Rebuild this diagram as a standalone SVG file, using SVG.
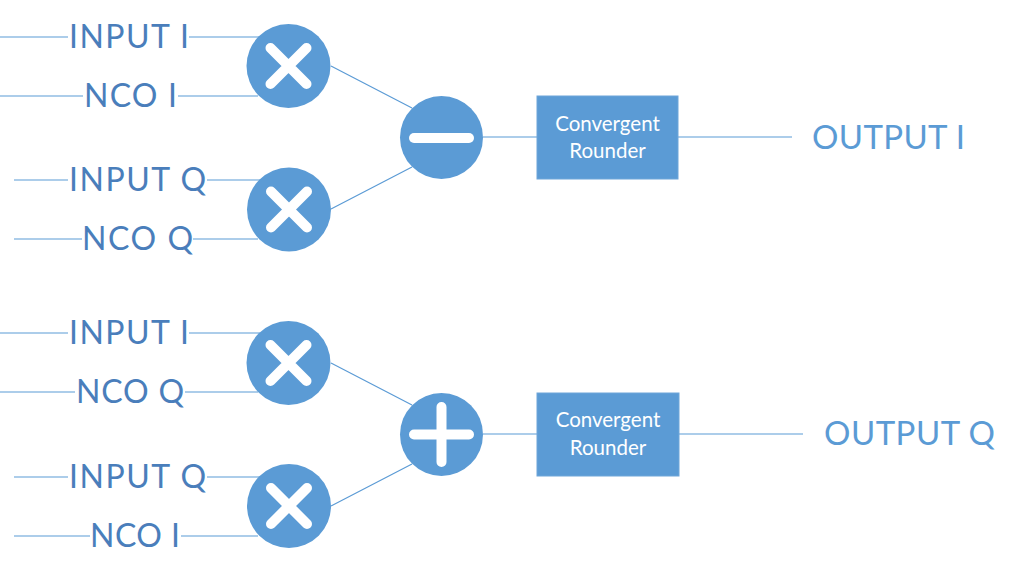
<svg xmlns="http://www.w3.org/2000/svg" width="1016" height="579" viewBox="0 0 1016 579">
<style>
.ln{stroke:#5b9bd5;stroke-width:1.2;fill:none}
.op{fill:#5b9bd5}
.sym{stroke:#fff;stroke-width:10;stroke-linecap:round;fill:none}
.lbl{font-family:Lato,"Liberation Sans",sans-serif;font-weight:400;font-size:32px;fill:#4a7ebb}
.out{font-family:Lato,"Liberation Sans",sans-serif;font-weight:400;font-size:33px;fill:#5b9bd5}
.box{fill:#5b9bd5;stroke:#6fa6d9;stroke-width:1}
.bt{font-family:Lato,"Liberation Sans",sans-serif;font-size:20.5px;fill:#fff;text-anchor:middle}
</style>
<rect width="1016" height="579" fill="#fff"/>
<g id="connectors">
<path class="ln" d="M0 37H68M189 37H260M0 96H83M178 96H258M14 180H68M207 180H260M14 239H82M193 239H258"/>
<path class="ln" d="M331 66L412 108M331 209L412 167M483 137H537M678 137H792"/>
<path class="ln" d="M0 333H68M189 333H260M0 392H75M185 392H258M14 477H68M207 477H260M14 536H90M181 536H258"/>
<path class="ln" d="M331 363L412 405M331 506L412 464M483 434H537M679 434H803"/>
</g>
<g id="labels">
<text class="lbl" x="69" y="48" textLength="120">INPUT I</text>
<text class="lbl" x="84" y="107" textLength="93">NCO I</text>
<text class="lbl" x="69" y="191" textLength="137">INPUT Q</text>
<text class="lbl" x="82" y="250" textLength="111">NCO Q</text>
<text class="lbl" x="69" y="344" textLength="120">INPUT I</text>
<text class="lbl" x="76" y="403" textLength="108">NCO Q</text>
<text class="lbl" x="69" y="488" textLength="137">INPUT Q</text>
<text class="lbl" x="90" y="547" textLength="90">NCO I</text>
</g>
<g id="mult1"><circle class="op" cx="288.5" cy="66" r="42"/><path class="sym" d="M270.5 48L306.5 84M306.5 48L270.5 84"/></g>
<g id="mult2"><circle class="op" cx="289" cy="209.5" r="42"/><path class="sym" d="M271 191.5L307 227.5M307 191.5L271 227.5"/></g>
<g id="sub"><circle class="op" cx="441.5" cy="137.5" r="41.5"/><path class="sym" d="M414 138H469"/></g>
<g id="rounder1"><rect class="box" x="537" y="96" width="141" height="83"/><text class="bt" x="607.5" y="131">Convergent</text><text class="bt" x="607.5" y="158">Rounder</text></g>
<g id="outI"><text class="out" x="812" y="149" textLength="153">OUTPUT I</text></g>
<g id="mult3"><circle class="op" cx="288.5" cy="363" r="42"/><path class="sym" d="M270.5 345L306.5 381M306.5 345L270.5 381"/></g>
<g id="mult4"><circle class="op" cx="289" cy="506" r="42"/><path class="sym" d="M271 488L307 524M307 488L271 524"/></g>
<g id="add"><circle class="op" cx="441.5" cy="434.5" r="41.5"/><path class="sym" d="M414 434.5H469M441.5 407V462"/></g>
<g id="rounder2"><rect class="box" x="537" y="393" width="142" height="83"/><text class="bt" x="608" y="427">Convergent</text><text class="bt" x="608" y="455">Rounder</text></g>
<g id="outQ"><text class="out" x="824" y="445" textLength="171">OUTPUT Q</text></g>
</svg>
